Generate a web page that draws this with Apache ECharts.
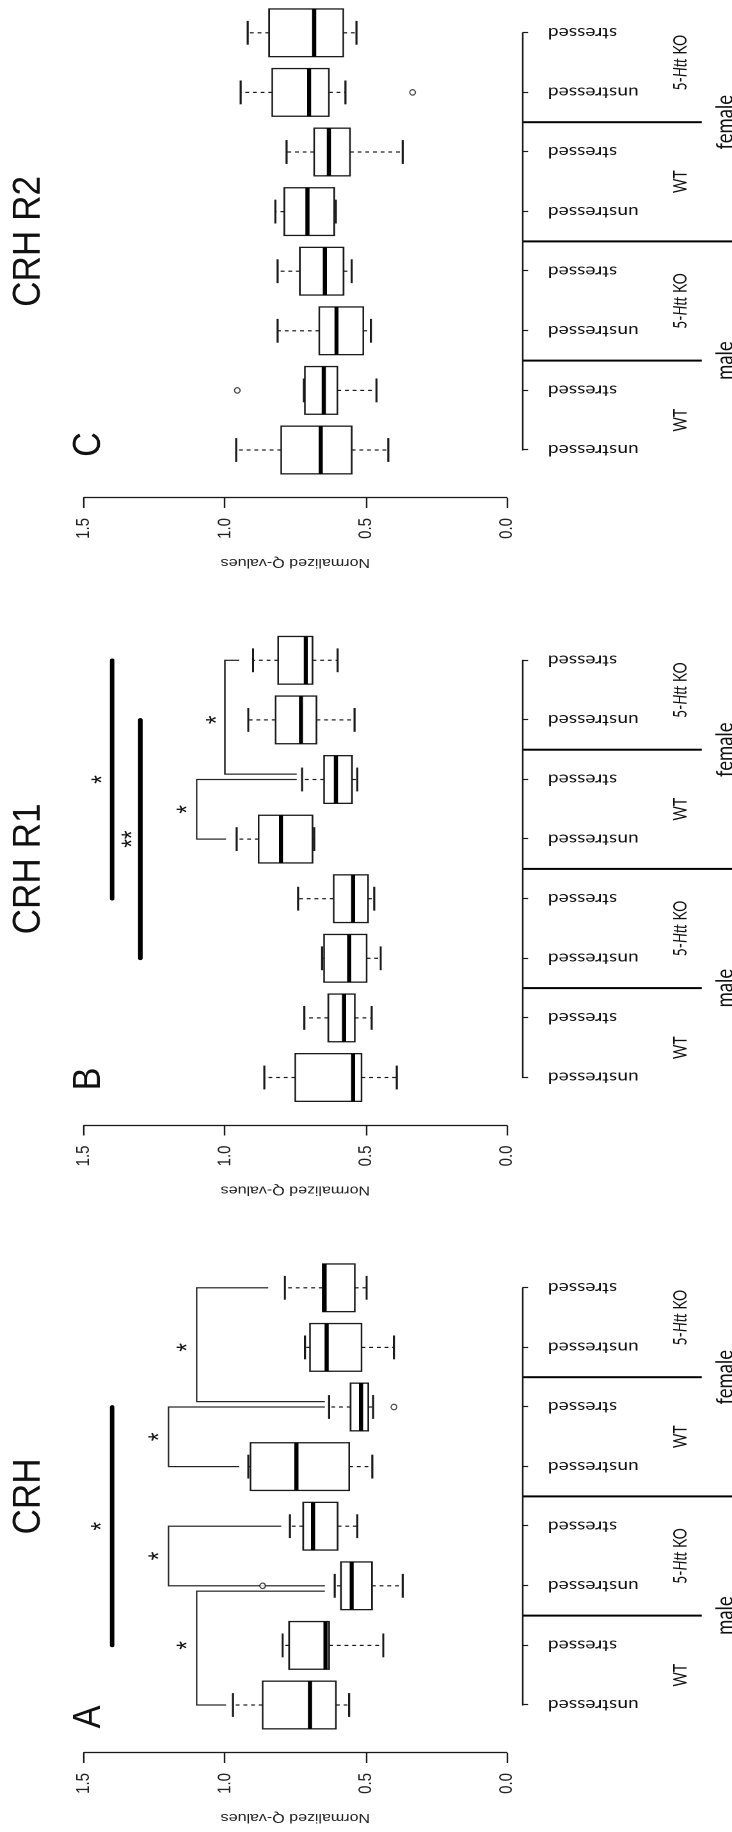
<!DOCTYPE html>
<html>
<head>
<meta charset="utf-8">
<script src="https://cdn.jsdelivr.net/npm/echarts/dist/echarts.min.js"></script>
<style>
html,body{margin:0;padding:0;width:732px;height:1832px;overflow:hidden;background:#fff;}
#chart{position:absolute;left:0;top:0;width:1832px;height:572px;transform-origin:0 0;
  transform:translate(0px,1832px) rotate(-90deg) scale(1,1.27972);}
</style>
</head>
<body>
<div id="chart"></div>
<script>
// ---------------- data ----------------
const categories = ['unstressed','stressed','unstressed','stressed','unstressed','stressed','unstressed','stressed'];
const genotypes = ['WT','5-Htt KO','WT','5-Htt KO'];
const sexes = ['male','female'];
const panelTitles = ['CRH','CRH R1','CRH R2'];
const panelLetters = ['A','B','C'];
const valueTicks = [0, 0.5, 1.0, 1.5];
const axisTitle = 'Normalized Q-values';

// box statistics: [min, q1, median, q3, max]
const crhBoxes = [
  [0.559, 0.606, 0.698, 0.866, 0.971],
  [0.438, 0.630, 0.643, 0.772, 0.795],
  [0.369, 0.478, 0.550, 0.588, 0.610],
  [0.530, 0.600, 0.687, 0.722, 0.769],
  [0.477, 0.559, 0.746, 0.909, 0.917],
  [0.474, 0.491, 0.517, 0.554, 0.630],
  [0.400, 0.515, 0.639, 0.698, 0.716],
  [0.497, 0.539, 0.646, 0.653, 0.787]
];
const crhR1Boxes = [
  [0.390, 0.515, 0.545, 0.750, 0.860],
  [0.479, 0.539, 0.577, 0.633, 0.718],
  [0.447, 0.497, 0.559, 0.648, 0.655],
  [0.470, 0.492, 0.545, 0.614, 0.740],
  [0.683, 0.689, 0.801, 0.880, 0.958],
  [0.530, 0.549, 0.606, 0.648, 0.726],
  [0.540, 0.675, 0.730, 0.820, 0.917],
  [0.600, 0.689, 0.713, 0.811, 0.900]
];
const crhR2Boxes = [
  [0.420, 0.550, 0.660, 0.800, 0.960],
  [0.462, 0.601, 0.649, 0.716, 0.720],
  [0.482, 0.509, 0.604, 0.665, 0.813],
  [0.550, 0.579, 0.645, 0.734, 0.813],
  [0.606, 0.612, 0.707, 0.789, 0.821],
  [0.369, 0.556, 0.631, 0.683, 0.781],
  [0.572, 0.631, 0.701, 0.832, 0.944],
  [0.533, 0.580, 0.683, 0.843, 0.919]
];
// outliers: [category index, value]
const crhOutliers = [[2, 0.866], [5, 0.400]];
const crhR1Outliers = [];
const crhR2Outliers = [[1, 0.956], [6, 0.334]];

// comparison brackets: [from, to, height, arm end at from, arm end at to]
const crhBrackets = [[0, 1.91, 1.10, 0.996, 0.645], [2, 3, 1.20, 0.645, 0.800], [4, 5, 1.20, 0.949, 0.645], [5.09, 7, 1.10, 0.645, 0.846]];
const crhR1Brackets = [[5.09, 7, 1.00, 0.745, 0.949], [4, 5, 1.10, 0.996, 0.745]];
const crhR2Brackets = [];
// significance bars: [from, to, height]
const crhSigLines = [[1, 5, 1.40]];
const crhR1SigLines = [[3, 7, 1.40], [2, 6, 1.30]];
const crhR2SigLines = [];
// stars: [position, value, text]
const crhStars = [[1, 1.149, '*'], [2.5, 1.248, '*'], [4.5, 1.248, '*'], [6, 1.149, '*'], [3, 1.452, '*']];
const crhR1Stars = [[6, 1.045, '*'], [4.5, 1.148, '*'], [5, 1.45, '*'], [4, 1.343, '**']];
const crhR2Stars = [];

// ---------------- layout / style ----------------
const W = 1832, H = 572;
const PANEL_SHIFT = 627.5, FIRST_LEFT = 127, STEP = 59.6;
const GRID_TOP = 65.6, GRID_BOTTOM = 176.05;
const X_OFFSET = 12.7, Y_OFFSET = 48;
const LETTER_DX = [-12, -1.5, 5.5];
const INK = '#1a1a1a';

const panels = [
  {boxes: crhBoxes, outliers: crhOutliers, brackets: crhBrackets, sig: crhSigLines, stars: crhStars},
  {boxes: crhR1Boxes, outliers: crhR1Outliers, brackets: crhR1Brackets, sig: crhR1SigLines, stars: crhR1Stars},
  {boxes: crhR2Boxes, outliers: crhR2Outliers, brackets: crhR2Brackets, sig: crhR2SigLines, stars: crhR2Stars}
];

function renderBox(params, api) {
  const x = api.value(0);
  const pMin = api.coord([x, api.value(1)]);
  const pQ1 = api.coord([x, api.value(2)]);
  const pMed = api.coord([x, api.value(3)]);
  const pQ3 = api.coord([x, api.value(4)]);
  const pMax = api.coord([x, api.value(5)]);
  const step = api.size([1, 0])[0];
  const bw = step * 0.8, sw = bw * 0.5, cx = pMin[0];
  return {type: 'group', children: [
    {type: 'line', shape: {x1: cx, y1: pQ3[1], x2: cx, y2: pMax[1]}, style: {stroke: INK, lineWidth: 1.2, lineDash: [3, 3]}},
    {type: 'line', shape: {x1: cx, y1: pQ1[1], x2: cx, y2: pMin[1]}, style: {stroke: INK, lineWidth: 1.2, lineDash: [3, 3]}},
    {type: 'line', shape: {x1: cx - sw / 2, y1: pMax[1], x2: cx + sw / 2, y2: pMax[1]}, style: {stroke: INK, lineWidth: 1.6}},
    {type: 'line', shape: {x1: cx - sw / 2, y1: pMin[1], x2: cx + sw / 2, y2: pMin[1]}, style: {stroke: INK, lineWidth: 1.6}},
    {type: 'rect', shape: {x: cx - bw / 2, y: pQ3[1], width: bw, height: pQ1[1] - pQ3[1]}, style: {fill: '#fff', stroke: INK, lineWidth: 1.3}},
    {type: 'line', shape: {x1: cx - bw / 2, y1: pMed[1], x2: cx + bw / 2, y2: pMed[1]}, style: {stroke: '#000', lineWidth: 3.2}}
  ]};
}
function renderBracket(params, api) {
  const x1 = api.value(0), x2 = api.value(1), h = api.value(2);
  const a = api.coord([x1, api.value(3)]), b = api.coord([x1, h]);
  const c = api.coord([x2, h]), d = api.coord([x2, api.value(4)]);
  return {type: 'polyline', shape: {points: [a, b, c, d]}, style: {stroke: '#222', lineWidth: 1.2, fill: null}};
}
function renderSig(params, api) {
  const a = api.coord([api.value(0), api.value(2)]), b = api.coord([api.value(1), api.value(2)]);
  return {type: 'line', shape: {x1: a[0], y1: a[1], x2: b[0], y2: b[1]}, style: {stroke: '#000', lineWidth: 3.6, lineCap: 'round'}};
}
function starRenderer(list) {
  return function (params, api) {
    const p = api.coord([api.value(0), api.value(1)]);
    return {type: 'text', x: p[0], y: p[1] + 4.5,
      style: {text: list[params.dataIndex][2], fontFamily: 'Liberation Sans, Arial, sans-serif', fontSize: 22,
        fill: '#111', align: 'center', verticalAlign: 'middle'}};
  };
}

const grid = [], xAxis = [], yAxis = [], series = [];
panels.forEach((pn, p) => {
  grid.push({left: FIRST_LEFT + PANEL_SHIFT * p, width: STEP * 7, top: GRID_TOP, bottom: GRID_BOTTOM, containLabel: false});
  xAxis.push({gridIndex: p, type: 'value', min: 0, max: 7, interval: 1, offset: X_OFFSET,
    axisLine: {show: true, onZero: false, lineStyle: {color: INK, width: 1.3}},
    axisTick: {show: true, length: 4, lineStyle: {color: INK, width: 1.2}},
    axisLabel: {show: true, rotate: 90, margin: 19.5, fontFamily: 'Lato, sans-serif', fontSize: 15, color: '#111',
      formatter: v => categories[Math.round(v)] || ''},
    splitLine: {show: false}});
  yAxis.push({gridIndex: p, type: 'value', min: valueTicks[0], max: valueTicks[valueTicks.length - 1], interval: 0.5, offset: Y_OFFSET,
    axisLine: {show: true, onZero: false, lineStyle: {color: INK, width: 1.3}},
    axisTick: {show: true, length: 10, lineStyle: {color: INK, width: 1.2}},
    axisLabel: {margin: 20, fontFamily: 'Liberation Sans, Arial, sans-serif', fontSize: 15, color: '#222', formatter: v => v.toFixed(1)},
    splitLine: {show: false},
    name: axisTitle, nameLocation: 'middle', nameGap: 58,
    nameTextStyle: {fontFamily: 'Liberation Sans, Arial, sans-serif', fontSize: 12.5, color: '#222'}});
  series.push({type: 'custom', xAxisIndex: p, yAxisIndex: p, clip: false, silent: true, z: 3,
    data: pn.boxes.map((b, i) => [i].concat(b)), renderItem: renderBox});
  series.push({type: 'scatter', xAxisIndex: p, yAxisIndex: p, silent: true, z: 4, symbol: 'circle', symbolSize: [5.5, 4.4],
    itemStyle: {color: '#fff', borderColor: INK, borderWidth: 1.1}, data: pn.outliers});
  series.push({type: 'custom', xAxisIndex: p, yAxisIndex: p, clip: false, silent: true, z: 2,
    data: pn.brackets, renderItem: renderBracket});
  series.push({type: 'custom', xAxisIndex: p, yAxisIndex: p, clip: false, silent: true, z: 2,
    data: pn.sig, renderItem: renderSig});
  series.push({type: 'custom', xAxisIndex: p, yAxisIndex: p, clip: false, silent: true, z: 5,
    data: pn.stars.map(s => [s[0], s[1]]), renderItem: starRenderer(pn.stars)});
});

const chart = echarts.init(document.getElementById('chart'), null, {width: W, height: H, devicePixelRatio: 2});
chart.setOption({animation: false, backgroundColor: '#fff', grid, xAxis, yAxis, series});

// decorations placed through the axes' own conversion
const graphic = [];
panels.forEach((pn, p) => {
  const px = v => chart.convertToPixel({gridIndex: p}, [v, 0]);
  const axisY = px(0)[1] + X_OFFSET;
  graphic.push({type: 'text', x: px(3.5)[0], y: 22.7, scaleX: 1.15,
    style: {text: panelTitles[p], fontFamily: 'Liberation Sans, Arial, sans-serif', fontSize: 30.6, fill: '#111', align: 'center', verticalAlign: 'middle'}});
  graphic.push({type: 'text', x: px(0)[0] + LETTER_DX[p], y: 69.5, scaleX: 1.12,
    style: {text: panelLetters[p], fontFamily: 'Liberation Sans, Arial, sans-serif', fontSize: 30.6, fill: '#111', align: 'center', verticalAlign: 'middle'}});
  [1.5, 3.5, 5.5].forEach(xv => {
    const x = px(xv)[0];
    graphic.push({type: 'line', shape: {x1: x, y1: axisY, x2: x, y2: xv === 3.5 ? H : 548.4}, style: {stroke: '#000', lineWidth: 2}});
  });
  genotypes.forEach((g, gi) => {
    const txt = g === '5-Htt KO' ? '{n|5-}{i|Htt}{n| KO}' : '{n|' + g + '}';
    graphic.push({type: 'text', x: px(2 * gi + 0.5)[0], y: 532.2,
      style: {text: txt, align: 'center', verticalAlign: 'middle',
        rich: {n: {fontFamily: 'Lato, sans-serif', fontSize: 14, fill: '#111'},
               i: {fontFamily: 'Lato, sans-serif', fontSize: 14, fontStyle: 'italic', fill: '#111'}}}});
  });
  sexes.forEach((s, si) => {
    graphic.push({type: 'text', x: px(4 * si + 1.5)[0], y: 557,
      style: {text: s, fontFamily: 'Lato, sans-serif', fontSize: 18.5, fill: '#111', align: 'center', verticalAlign: 'top'}});
  });
});
chart.setOption({graphic});
</script>
</body>
</html>
